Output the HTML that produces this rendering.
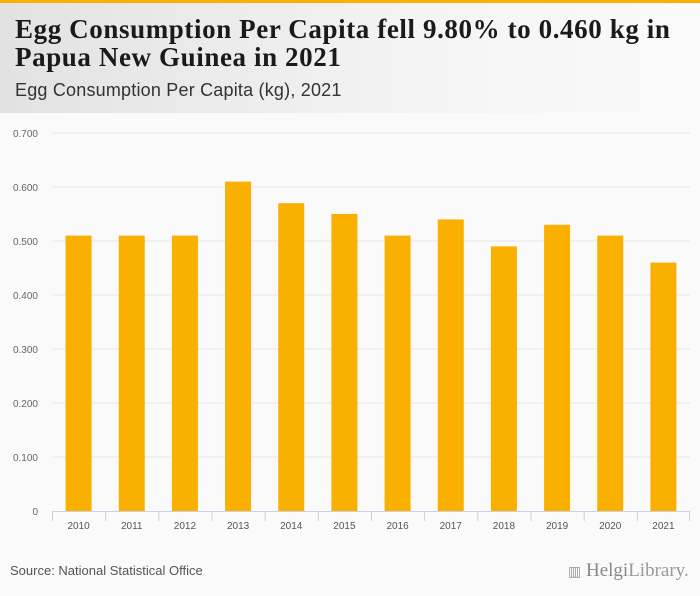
<!DOCTYPE html>
<html><head><meta charset="utf-8"><style>
body{margin:0;width:700px;height:596px;background:#fafafa;font-family:"Liberation Sans",sans-serif;overflow:hidden;position:relative}
#hdr{position:absolute;left:0;top:0;width:700px;height:113px;background:linear-gradient(90deg,#e2e2e2,#f4f4f4 60%,#fafafa)}
#topbar{position:absolute;left:0;top:0;width:700px;height:3px;background:#f9b000}
#title{position:absolute;left:15px;top:15px;font-family:"Liberation Serif",serif;font-weight:bold;font-size:27px;line-height:28px;color:#1a1a1a;letter-spacing:0.6px;white-space:nowrap}
#sub{position:absolute;left:15px;top:80px;font-size:18px;color:#333;letter-spacing:0.2px}
#src{position:absolute;left:10px;top:563px;font-size:13px;color:#555}
#logo{position:absolute;left:568px;top:560px;font-family:"Liberation Serif",serif;font-size:19px;color:#999}
</style></head><body>
<div id="hdr"></div>
<div id="topbar"></div>
<div id="title">Egg Consumption Per Capita fell 9.80% to 0.460 kg in<br>Papua New Guinea in 2021</div>
<div id="sub">Egg Consumption Per Capita (kg), 2021</div>
<svg id="chart" width="700" height="596" style="position:absolute;left:0;top:0"></svg>
<div id="src">Source: National Statistical Office</div>
<div id="logo"><span style="font-size:14px">▥</span> <b style="font-weight:normal;color:#888">Helgi</b>Library.</div>
<script>
const categories=["2010","2011","2012","2013","2014","2015","2016","2017","2018","2019","2020","2021"];
const values=[0.51,0.51,0.51,0.61,0.57,0.55,0.51,0.54,0.49,0.53,0.51,0.46];
const yTicks=[0,0.1,0.2,0.3,0.4,0.5,0.6,0.7];
const yLabels=["0","0.100","0.200","0.300","0.400","0.500","0.600","0.700"];
const svg=document.getElementById('chart');const NS="http://www.w3.org/2000/svg";
const x0=52,x1=690,yb=511,yt=133,ymax=0.7;
const step=(x1-x0)/categories.length;
const y=v=>yb-(v/ymax)*(yb-yt);
const xc=i=>x0+step*(i+0.5);
function mk(t,a){const e=document.createElementNS(NS,t);for(const k in a)e.setAttribute(k,a[k]);svg.appendChild(e);return e;}
yTicks.forEach((t,i)=>{
 if(i>0){const l=mk('line',{x1:x0,x2:x1,y1:y(t),y2:y(t),stroke:'#e6e6e6','stroke-width':1});
 
 }
 const tx=mk('text',{x:38,y:y(t)+4,'text-anchor':'end','font-size':'10','fill':'#666','font-family':'Liberation Sans, sans-serif'});
 tx.textContent=yLabels[i];
 
 
});
const ax=mk('line',{x1:x0,x2:x1,y1:yb+0.5,y2:yb+0.5,stroke:'#c8d2e6','stroke-width':1});


categories.forEach((c,i)=>{
 const tk=mk('line',{x1:x0+step*i+0.5,x2:x0+step*i+0.5,y1:yb,y2:yb+10,stroke:'#c8d2e6'});
 
 
 const b=mk('rect',{x:xc(i)-13,y:y(values[i]),width:26,height:yb-y(values[i]),fill:'#f9b000'});
 
 
 const t=mk('text',{x:xc(i),y:529,'text-anchor':'middle','font-size':'10','fill':'#555','font-family':'Liberation Sans, sans-serif'});
 t.textContent=c;
 
 
});
const tk=mk('line',{x1:x1-0.5,x2:x1-0.5,y1:yb,y2:yb+10,stroke:'#c8d2e6'});


</script>
</body></html>
